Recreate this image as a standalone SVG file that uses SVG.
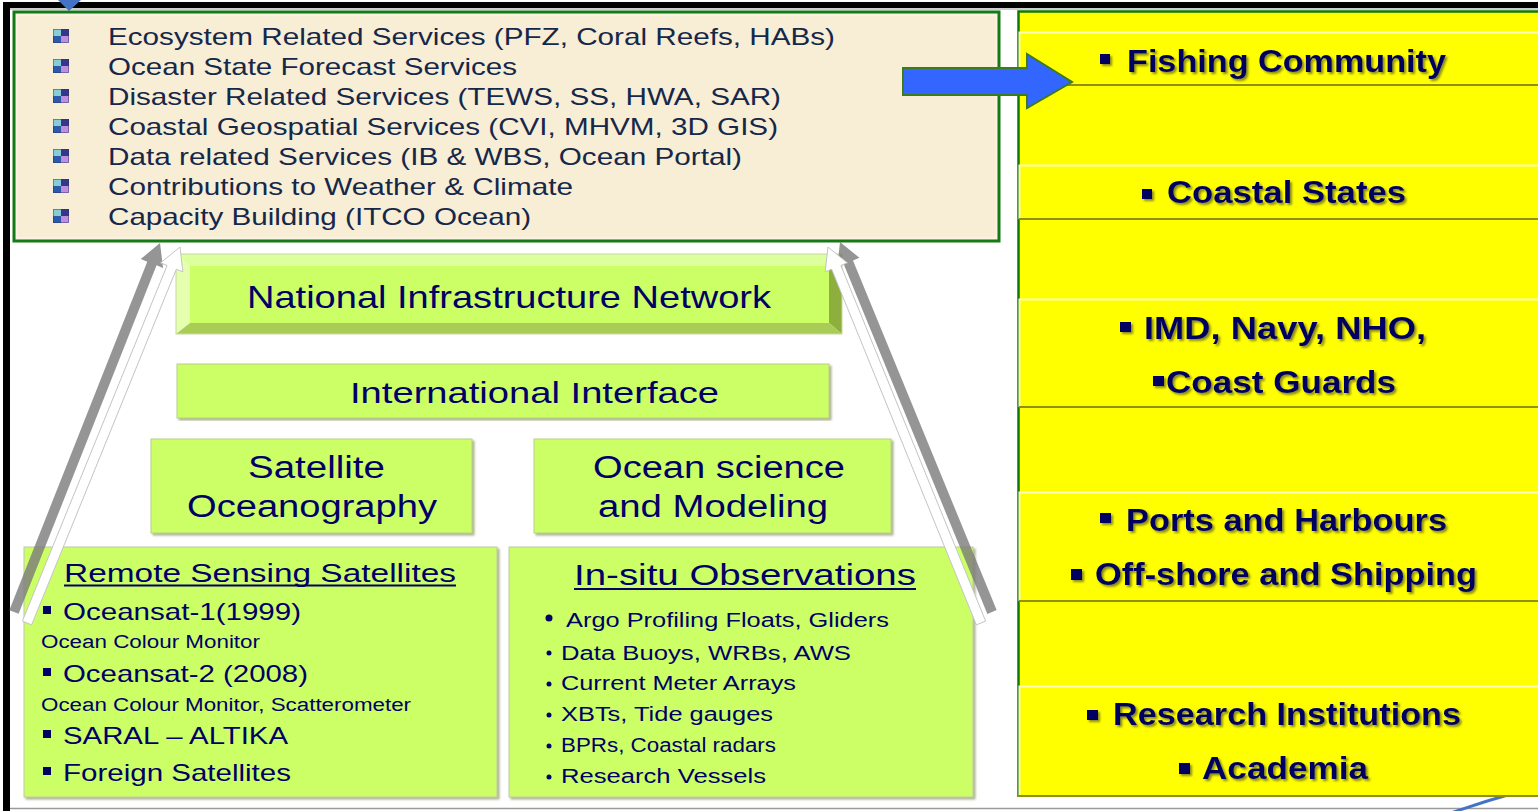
<svg xmlns="http://www.w3.org/2000/svg" width="1538" height="811" viewBox="0 0 1538 811">
<style>
.f{font-family:"Liberation Sans",Arial,sans-serif}
.lst{font-size:24px;fill:#15284a}
.gb{fill:#000066}
.yb{font-size:32px;font-weight:bold;fill:#000060}
.face{fill:#CCFF66}
.sq{fill:#000060}
.ag{fill:#7a7a7a;fill-opacity:0.8}
.aw{fill:#ffffff;stroke:#c4c4c4;stroke-width:1}
.band{fill:#FFFF00}
.hl{stroke:#FFFFB8;stroke-width:2;fill:none}
.dl{stroke:#8F8F10;stroke-width:2;fill:none}
</style>
<defs>
<filter id="sh" x="-5%" y="-20%" width="110%" height="150%"><feDropShadow dx="2" dy="2" stdDeviation="0.8" flood-color="#5a5a20" flood-opacity="0.7"/></filter>
<filter id="bs" x="-5%" y="-5%" width="110%" height="110%"><feDropShadow dx="2" dy="2" stdDeviation="1" flood-color="#6f7f40" flood-opacity="0.6"/></filter>
<g id="bul"><rect x="0" y="0" width="8" height="7" fill="#86cdd6"/><rect x="8" y="0" width="8" height="7" fill="#34378a"/><rect x="0" y="7" width="8" height="7" fill="#2b5aab"/><rect x="8" y="7" width="8" height="7" fill="#c08fdc"/><rect x="0.5" y="0.5" width="15" height="13" fill="none" stroke="#2a3570" stroke-width="0.8" opacity="0.6"/></g>
</defs>
<rect width="1538" height="811" fill="#ffffff"/>
<!-- frame -->
<g id="frame">
<rect x="3" y="2" width="1535" height="6" fill="#000"/>
<line x1="10" y1="9" x2="1538" y2="9" stroke="#9a9a9a" stroke-width="1"/>
<rect x="3" y="2" width="7" height="809" fill="#000"/>
<line x1="10" y1="808.5" x2="1538" y2="808.5" stroke="#9a9a9a" stroke-width="1.5"/>
<path d="M1448 814 Q1482 802 1518 792" stroke="#4472C4" stroke-width="3" fill="none"/>
<polygon points="58,0 81,0 69,11" fill="#4472C4"/>
</g>
<!-- services box -->
<g id="services">
<rect x="14" y="12" width="985" height="229" fill="#F8EDD5" stroke="#157a15" stroke-width="3"/>
<rect x="17" y="15" width="979" height="223" fill="none" stroke="#ffffff" stroke-width="1" opacity="0.7"/>
<use href="#bul" x="53" y="29"/>
<use href="#bul" x="53" y="59"/>
<use href="#bul" x="53" y="89"/>
<use href="#bul" x="53" y="119"/>
<use href="#bul" x="53" y="149"/>
<use href="#bul" x="53" y="179"/>
<use href="#bul" x="53" y="209"/>
<text class="f lst" x="108" y="45" textLength="727" lengthAdjust="spacingAndGlyphs">Ecosystem Related Services (PFZ, Coral Reefs, HABs)</text>
<text class="f lst" x="108" y="75" textLength="409" lengthAdjust="spacingAndGlyphs">Ocean State Forecast Services</text>
<text class="f lst" x="108" y="105" textLength="673" lengthAdjust="spacingAndGlyphs">Disaster Related Services (TEWS, SS, HWA, SAR)</text>
<text class="f lst" x="108" y="135" textLength="670" lengthAdjust="spacingAndGlyphs">Coastal Geospatial Services (CVI, MHVM, 3D GIS)</text>
<text class="f lst" x="108" y="165" textLength="634" lengthAdjust="spacingAndGlyphs">Data related Services (IB &amp; WBS, Ocean Portal)</text>
<text class="f lst" x="108" y="195" textLength="465" lengthAdjust="spacingAndGlyphs">Contributions to Weather &amp; Climate</text>
<text class="f lst" x="108" y="225" textLength="423" lengthAdjust="spacingAndGlyphs">Capacity Building (ITCO Ocean)</text>
</g>
<!-- user column -->
<g id="users">
<rect x="1018" y="11" width="520" height="786" fill="#FFFF00"/>
<path d="M1018.5 797 V11.5 H1538" stroke="#0E7A0E" stroke-width="2.5" fill="none"/>
<line x1="1018" y1="796" x2="1538" y2="796" class="dl"/>
<rect class="band" x="1019" y="32" width="519" height="53"/>
<path class="hl" d="M1019.5 85 V32.5 H1538"/><line class="dl" x1="1019" y1="85" x2="1538" y2="85"/>
<rect class="band" x="1019" y="165" width="519" height="54"/>
<path class="hl" d="M1019.5 219 V165.5 H1538"/><line class="dl" x1="1019" y1="219" x2="1538" y2="219"/>
<rect class="band" x="1019" y="299" width="519" height="108"/>
<path class="hl" d="M1019.5 407 V299.5 H1538"/><line class="dl" x1="1019" y1="407" x2="1538" y2="407"/>
<rect class="band" x="1019" y="492" width="519" height="109"/>
<path class="hl" d="M1019.5 601 V492.5 H1538"/><line class="dl" x1="1019" y1="601" x2="1538" y2="601"/>
<rect class="band" x="1019" y="686" width="519" height="110"/>
<path class="hl" d="M1019.5 795 V686.5 H1538"/><line class="dl" x1="1019" y1="796" x2="1538" y2="796"/>
<g filter="url(#sh)">
<rect class="sq" x="1100" y="54" width="10" height="10"/>
<text class="f yb" x="1127" y="72" textLength="319" lengthAdjust="spacingAndGlyphs">Fishing Community</text>
<rect class="sq" x="1142" y="189" width="10" height="10"/>
<text class="f yb" x="1167" y="203" textLength="239" lengthAdjust="spacingAndGlyphs">Coastal States</text>
<rect class="sq" x="1120" y="322" width="11" height="10"/>
<text class="f yb" x="1144" y="339" textLength="282" lengthAdjust="spacingAndGlyphs">IMD, Navy, NHO,</text>
<rect class="sq" x="1153" y="376" width="11" height="10"/>
<text class="f yb" x="1166" y="393" textLength="230" lengthAdjust="spacingAndGlyphs">Coast Guards</text>
<rect class="sq" x="1100" y="513" width="11" height="10"/>
<text class="f yb" x="1126" y="531" textLength="321" lengthAdjust="spacingAndGlyphs">Ports and Harbours</text>
<rect class="sq" x="1071" y="569" width="11" height="11"/>
<text class="f yb" x="1095" y="585" textLength="382" lengthAdjust="spacingAndGlyphs">Off-shore and Shipping</text>
<rect class="sq" x="1087" y="710" width="11" height="10"/>
<text class="f yb" x="1113" y="725" textLength="348" lengthAdjust="spacingAndGlyphs">Research Institutions</text>
<rect class="sq" x="1179" y="763" width="11" height="11"/>
<text class="f yb" x="1202" y="779" textLength="166" lengthAdjust="spacingAndGlyphs">Academia</text>
</g>
</g>
<!-- National Infrastructure Network -->
<g id="nin">
<polygon points="176,254 842,254 829,266 190,266" fill="#DEFF9E"/>
<polygon points="176,254 190,266 190,323 176,334" fill="#E4FFAE"/>
<polygon points="842,254 842,334 829,323 829,266" fill="#8DAF3E"/>
<polygon points="176,334 842,334 829,323 190,323" fill="#A9CC56"/>
<rect class="face" x="190" y="266" width="639" height="57"/>
<rect x="176" y="254" width="666" height="80" fill="none" stroke="#c8d8a0" stroke-width="1"/>
<text class="f gb" x="247" y="308" font-size="32" textLength="524" lengthAdjust="spacingAndGlyphs">National Infrastructure Network</text>
</g>
<g id="intl">
<rect class="face" x="177" y="364" width="652" height="54" stroke="#b8cf88" stroke-width="1" filter="url(#bs)"/>
<text class="f gb" x="350" y="403" font-size="30" textLength="369" lengthAdjust="spacingAndGlyphs">International Interface</text>
</g>
<g id="satocean">
<rect class="face" x="151" y="439" width="321" height="94" stroke="#b8cf88" stroke-width="1" filter="url(#bs)"/>
<text class="f gb" x="248" y="478" font-size="31" textLength="137" lengthAdjust="spacingAndGlyphs">Satellite</text>
<text class="f gb" x="187" y="517" font-size="31" textLength="250" lengthAdjust="spacingAndGlyphs">Oceanography</text>
</g>
<g id="oceansci">
<rect class="face" x="534" y="439" width="357" height="94" stroke="#b8cf88" stroke-width="1" filter="url(#bs)"/>
<text class="f gb" x="593" y="478" font-size="31" textLength="252" lengthAdjust="spacingAndGlyphs">Ocean science</text>
<text class="f gb" x="598" y="517" font-size="31" textLength="230" lengthAdjust="spacingAndGlyphs">and Modeling</text>
</g>
<g id="remote">
<rect class="face" x="24" y="547" width="473" height="250" stroke="#c0c8a8" stroke-width="1" filter="url(#bs)"/>
<text class="f gb" x="64" y="582" font-size="26" textLength="392" lengthAdjust="spacingAndGlyphs">Remote Sensing Satellites</text>
<line x1="64" y1="585.5" x2="456" y2="585.5" stroke="#000066" stroke-width="1.8"/>
<rect class="sq" x="43" y="606" width="8" height="8"/>
<text class="f gb" x="63" y="620" font-size="24" textLength="238" lengthAdjust="spacingAndGlyphs">Oceansat-1(1999)</text>
<text class="f gb" x="41" y="648" font-size="18" textLength="219" lengthAdjust="spacingAndGlyphs">Ocean Colour Monitor</text>
<rect class="sq" x="43" y="668" width="8" height="8"/>
<text class="f gb" x="63" y="682" font-size="24" textLength="245" lengthAdjust="spacingAndGlyphs">Oceansat-2 (2008)</text>
<text class="f gb" x="41" y="711" font-size="18" textLength="370" lengthAdjust="spacingAndGlyphs">Ocean Colour Monitor, Scatterometer</text>
<rect class="sq" x="43" y="730" width="8" height="8"/>
<text class="f gb" x="63" y="744" font-size="24" textLength="225" lengthAdjust="spacingAndGlyphs">SARAL – ALTIKA</text>
<rect class="sq" x="43" y="767" width="8" height="8"/>
<text class="f gb" x="63" y="781" font-size="24" textLength="228" lengthAdjust="spacingAndGlyphs">Foreign Satellites</text>
</g>
<g id="insitu">
<rect class="face" x="509" y="547" width="464" height="250" stroke="#c0c8a8" stroke-width="1" filter="url(#bs)"/>
<text class="f gb" x="574" y="585" font-size="29" textLength="342" lengthAdjust="spacingAndGlyphs">In-situ Observations</text>
<line x1="574" y1="589" x2="916" y2="589" stroke="#000066" stroke-width="2"/>
<circle cx="549" cy="618" r="3.5" fill="#000066"/>
<text class="f gb" x="566" y="627" font-size="20" textLength="323" lengthAdjust="spacingAndGlyphs">Argo Profiling Floats, Gliders</text>
<circle cx="549" cy="653" r="2.5" fill="#000066"/>
<text class="f gb" x="561" y="660" font-size="20" textLength="290" lengthAdjust="spacingAndGlyphs">Data Buoys, WRBs, AWS</text>
<circle cx="549" cy="684" r="2.5" fill="#000066"/>
<text class="f gb" x="561" y="690" font-size="20" textLength="235" lengthAdjust="spacingAndGlyphs">Current Meter Arrays</text>
<circle cx="549" cy="715" r="2.5" fill="#000066"/>
<text class="f gb" x="561" y="721" font-size="20" textLength="212" lengthAdjust="spacingAndGlyphs">XBTs, Tide gauges</text>
<circle cx="549" cy="746" r="2.5" fill="#000066"/>
<text class="f gb" x="561" y="752" font-size="20" textLength="215" lengthAdjust="spacingAndGlyphs">BPRs, Coastal radars</text>
<circle cx="549" cy="777" r="2.5" fill="#000066"/>
<text class="f gb" x="561" y="783" font-size="20" textLength="205" lengthAdjust="spacingAndGlyphs">Research Vessels</text>
</g>
<!-- connectors -->
<g id="connectors">
<polygon class="ag" points="18.65,613.84 156.55,265.34 163.06,267.92 160,243 140.74,259.08 147.25,261.66 9.35,610.16"/>
<polygon class="aw" points="31.63,624.89 176.34,269.26 182.82,271.89 180,247 160.6,262.85 167.08,265.49 22.37,621.12"/>
<polygon class="ag" points="996.63,610.1 852.99,260.45 859.46,257.79 840,242 837.26,266.91 843.74,264.25 987.38,613.9"/>
<polygon class="aw" points="985.63,621.12 840.92,265.49 847.4,262.85 828,247 825.18,271.89 831.66,269.26 976.37,624.89"/>
<polygon points="903,68 1027,68 1027,54 1072,82 1027,108 1027,95 903,95" fill="#3366FF" stroke="#3d7a1f" stroke-width="2"/>
</g>
</svg>
